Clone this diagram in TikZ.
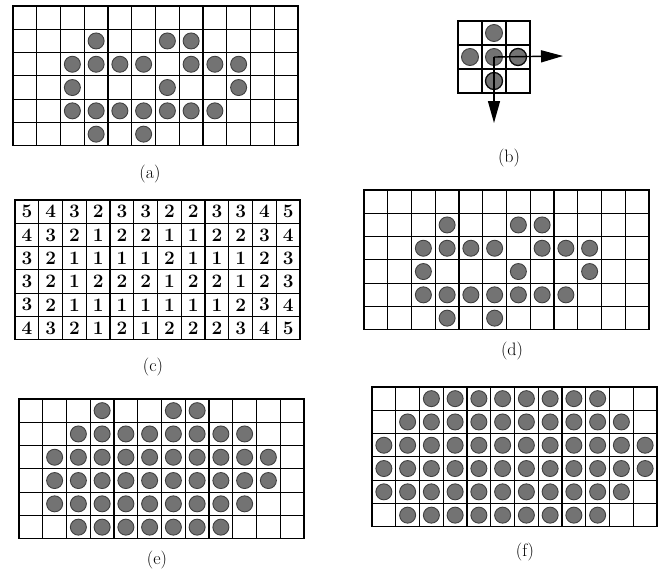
\documentclass[tikz,border=0pt]{standalone}
\usepackage{fontspec}
\usetikzlibrary{arrows.meta}
\begin{document}
\begin{tikzpicture}[x=1pt,y=-1pt,
  gl/.style={draw=black,line width=1.1pt},
  dot/.style={circle,minimum size=16pt,inner sep=0pt,fill=black!55,draw=black!75,line width=0.9pt},
  mdot/.style={dot,draw=black!95,line width=1.3pt},
  num/.style={inner sep=0pt,font=\fontsize{19}{19}\selectfont\bfseries},
  lab/.style={inner sep=0pt,font=\fontsize{18}{18}\selectfont}]
\useasboundingbox (0,0) rectangle (667,574);
\def\cw{23.75}\def\ch{23.3}
\newcommand\drawgrid[2]{%
  \foreach \i in {0,...,12} \draw[gl] ({#1+\i*\cw},#2) -- ({#1+\i*\cw},{#2+6*\ch});
  \foreach \j in {0,...,6} \draw[gl] ({#1-0.55},{#2+\j*\ch}) -- ({#1+12*\cw+0.55},{#2+\j*\ch});
}
% rows: r/{cols}
\newcommand\putdots[4]{%
  \foreach \r/\cols in {#4} {
    \foreach \c in \cols
      \node[dot] (#1-\c-\r) at ({#2+(\c+0.5)*\cw},{#3+(\r+0.5)*\ch}) {};
  }
}
% (a)
\drawgrid{13}{6}
\putdots{a}{13}{6}{1/{3,6,7},2/{2,3,4,5,7,8,9},3/{2,6,9},4/{2,3,4,5,6,7,8},5/{3,5}}
\node[lab] (la) at (150,174) {(a)};
% (b)
\foreach \i in {0,...,3} {
  \draw[gl] ({458+\i*24},21) -- ({458+\i*24},93);
  \draw[gl] (457.45,{21+\i*24}) -- (530.55,{21+\i*24});
}
\node[dot,minimum size=17pt] (b10) at (494,33) {};
\node[dot,minimum size=17pt] (b01) at (470,57) {};
\node[dot,minimum size=17pt] (b11) at (494,57) {};
\node[mdot,minimum size=17pt] (b21) at (518,57) {};
\node[mdot,minimum size=17pt] (b12) at (494,81) {};
\coordinate (tipR) at (563,56);
\coordinate (tipD) at (494,123);
\draw[line width=1.4pt,-{Triangle[length=22pt,width=12pt]}] (b11.center) -- (tipR);
\draw[line width=1.4pt,-{Triangle[length=22pt,width=12pt]}] (b11.center) -- (tipD);
\node[lab] (lb) at (509,158) {(b)};
% (c)
\drawgrid{15}{200}
\foreach \r/\vals in {0/{5,4,3,2,3,3,2,2,3,3,4,5},1/{4,3,2,1,2,2,1,1,2,2,3,4},2/{3,2,1,1,1,1,2,1,1,1,2,3},3/{3,2,1,2,2,2,1,2,2,1,2,3},4/{3,2,1,1,1,1,1,1,1,2,3,4},5/{4,3,2,1,2,1,2,2,2,3,4,5}} {
  \foreach \v [count=\c from 0] in \vals
    \node[num] (c-\c-\r) at ({15+(\c+0.5)*\cw},{200+(\r+0.5)*\ch}) {\v};
}
\node[lab] (lc) at (153,367) {(c)};
% (d)
\drawgrid{364}{190}
\putdots{d}{364}{190}{1/{3,6,7},2/{2,3,4,5,7,8,9},3/{2,6,9},4/{2,3,4,5,6,7,8},5/{3,5}}
\node[lab] (ld) at (512,351) {(d)};
% (e)
\drawgrid{19}{399}
\putdots{e}{19}{399}{0/{3,6,7},1/{2,...,9},2/{1,...,10},3/{1,...,10},4/{1,...,9},5/{2,...,8}}
\node[lab] (le) at (157,560) {(e)};
% (f)
\drawgrid{372}{387}
\putdots{f}{372}{387}{0/{2,...,9},1/{1,...,10},2/{0,...,11},3/{0,...,11},4/{0,...,10},5/{1,...,9}}
\node[lab] (lf) at (525,552) {(f)};
\end{tikzpicture}
\end{document}
